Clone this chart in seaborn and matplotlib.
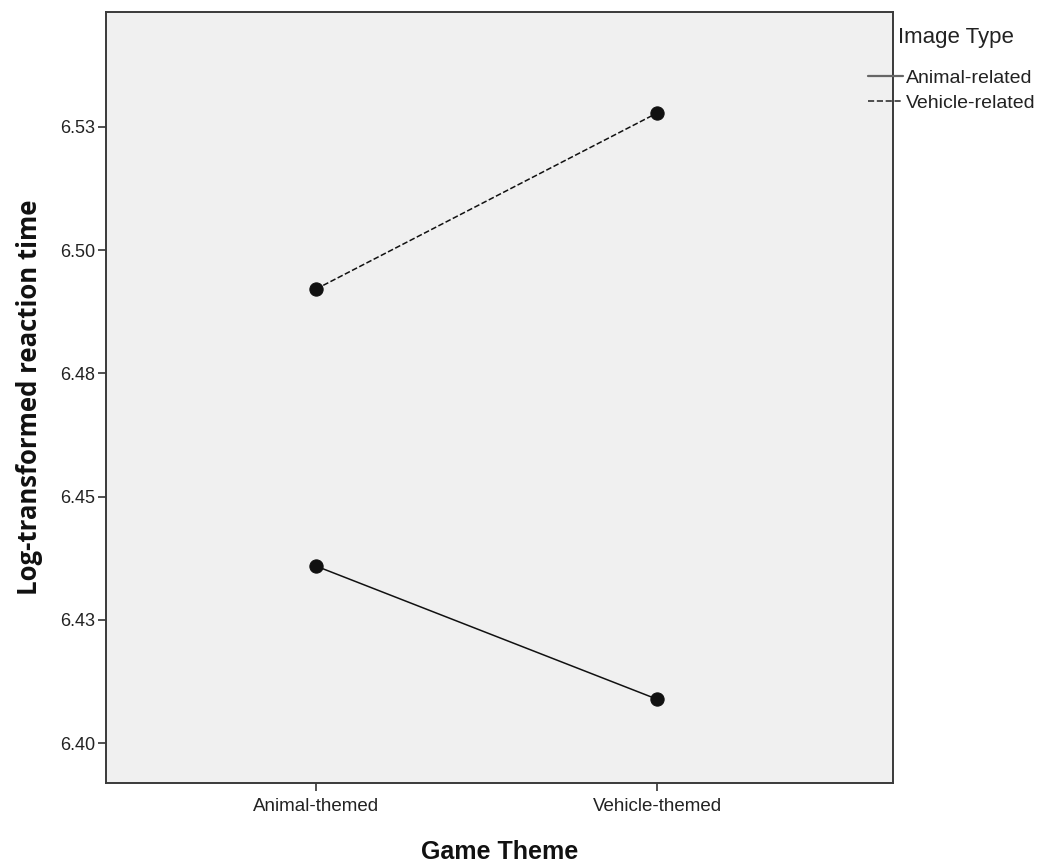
import matplotlib
matplotlib.use("Agg")
import matplotlib.pyplot as plt
from matplotlib.lines import Line2D
import seaborn as sns
import pandas as pd

game_theme = ["Animal-themed", "Vehicle-themed"]
image_types = ["Animal-related", "Vehicle-related"]
animal_related = [6.4359, 6.4089]
vehicle_related = [6.4921, 6.5278]
y_ticks = [6.400, 6.425, 6.450, 6.475, 6.500, 6.525]
y_tick_labels = ["6.40", "6.43", "6.45", "6.48", "6.50", "6.53"]

df = pd.DataFrame({
    "Game Theme": game_theme * 2,
    "Image Type": [image_types[0]] * 2 + [image_types[1]] * 2,
    "value": animal_related + vehicle_related,
})

sns.set_style("white")
plt.rcParams["font.family"] = ["Liberation Sans", "DejaVu Sans"]

W, H = 1054, 866
fig = plt.figure(figsize=(W / 100, H / 100), dpi=100)
ax = fig.add_axes([106 / W, 1 - 783 / H, (893 - 106) / W, (783 - 12) / H])
ax.set_facecolor("#f0f0f0")

sns.pointplot(data=df, x="Game Theme", y="value", hue="Image Type",
              order=game_theme, hue_order=image_types,
              palette=["#111111", "#111111"], markers=["o", "o"],
              linestyles=["-", "--"], errorbar=None, ax=ax,
              markersize=9.5, linewidth=1.1, legend=False)

ax.set_xlim(-0.616, 1.692)
ax.set_ylim(6.3919, 6.5483)
ax.set_yticks(y_ticks)
ax.set_yticklabels(y_tick_labels)
ax.tick_params(axis="both", direction="out", length=6, width=1.2, color="#333333",
               labelsize=13, labelcolor="#222222", bottom=True, left=True)
ax.tick_params(axis="x", pad=5, labelsize=13.5)
ax.tick_params(axis="y", pad=2)
for s in ax.spines.values():
    s.set_color("#3a3a3a")
    s.set_linewidth(1.4)
    s.set_visible(True)

ax.set_xlabel("Game Theme", fontsize=18, fontweight="bold", labelpad=18, color="#111111")
ax.set_ylabel("Log-transformed reaction time", fontsize=18.5, fontweight="bold",
              labelpad=12, color="#111111",
              family=["Open Sans", "Liberation Sans", "DejaVu Sans"])

fig.text(956 / W, 1 - 38 / H, "Image Type", ha="center", va="center",
         fontsize=16, color="#222222")
handles = [Line2D([], [], color="#666666", linestyle="-", linewidth=1.6),
           Line2D([], [], color="#333333", linestyle="--", linewidth=1.2)]
leg = fig.legend(handles, image_types, loc="upper left",
                 bbox_to_anchor=(868 / W, 1 - 69 / H), frameon=False, fontsize=14,
                 handlelength=1.8, handletextpad=0.15, labelspacing=0.4,
                 borderpad=0, borderaxespad=0)
for t in leg.get_texts():
    t.set_color("#222222")

fig.savefig("out.png", dpi=100)
